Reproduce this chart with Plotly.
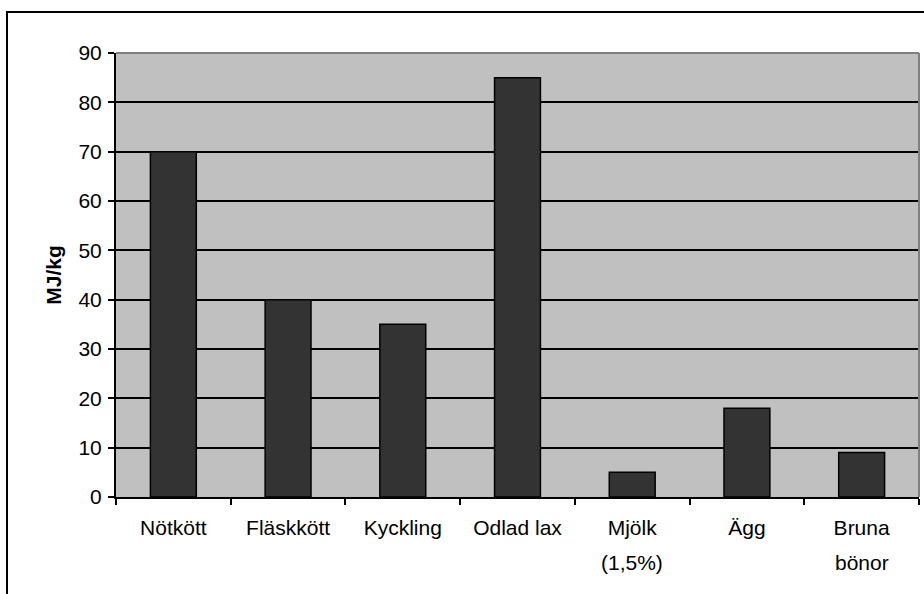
import plotly.graph_objects as go

# Energy use per kilogram of food
categories = ["Nötkött", "Fläskkött", "Kyckling", "Odlad lax", "Mjölk (1,5%)", "Ägg", "Bruna bönor"]
first_lines = ["Nötkött", "Fläskkött", "Kyckling", "Odlad lax", "Mjölk", "Ägg", "Bruna"]
second_lines = ["", "", "", "", "(1,5%)", "", "bönor"]
values = [70, 40, 35, 85, 5, 18, 9]
y_ticks = [0, 10, 20, 30, 40, 50, 60, 70, 80, 90]

W, H = 924, 594
L, R, T, B = 116, 5, 53, 97
pw, ph = W - L - R, H - T - B
FONT = "Liberation Sans, Arial, sans-serif"
FS = 21

fig = go.Figure(go.Bar(
    x=categories, y=values, width=0.4,
    marker=dict(color="#333333", line=dict(color="#000000", width=1.5)),
))

fig.update_layout(
    width=W, height=H,
    margin=dict(l=L, r=R, t=T, b=B),
    paper_bgcolor="white", plot_bgcolor="#C0C0C0",
    showlegend=False,
    font=dict(family=FONT, size=FS, color="#000000"),
    xaxis=dict(
        tickmode="array", tickvals=categories, ticktext=first_lines,
        tickson="boundaries", ticks="outside", ticklen=6, tickwidth=2, tickcolor="#000",
        showline=True, linecolor="#000", linewidth=2, showgrid=False,
        ticklabelstandoff=11, tickfont=dict(size=FS),
    ),
    yaxis=dict(
        range=[0, 90], tickvals=y_ticks, ticks="outside", ticklen=6, tickwidth=2,
        tickcolor="#000", showline=True, linecolor="#000", linewidth=2,
        showgrid=True, gridcolor="#000", gridwidth=1.5, zeroline=False,
        ticklabelstandoff=2, tickfont=dict(size=FS),
        title=dict(text="<b>MJ/kg</b>", font=dict(size=FS), standoff=11),
    ),
)

# second line of the two-line category labels
for c, s in zip(categories, second_lines):
    if s:
        fig.add_annotation(x=c, y=-65 / ph, xref="x", yref="paper", text=s,
                           showarrow=False, yanchor="middle",
                           font=dict(family=FONT, size=FS, color="#000"))

# gray top and right edge of the plot area
fig.add_shape(type="line", xref="paper", yref="paper", x0=0, x1=1, y0=1, y1=1,
              line=dict(color="#808080", width=2), layer="above")
fig.add_shape(type="line", xref="paper", yref="paper", x0=1, x1=1, y0=0, y1=1,
              line=dict(color="#808080", width=2), layer="above")

# outer chart frame
fig.add_shape(type="rect", xref="paper", yref="paper",
              x0=(7 - L) / pw, x1=(W + 20 - L) / pw,
              y0=-(H + 20 - T - ph) / ph, y1=1 + (T - 12) / ph,
              line=dict(color="#000", width=2), layer="below")

fig.write_html("out.html")
